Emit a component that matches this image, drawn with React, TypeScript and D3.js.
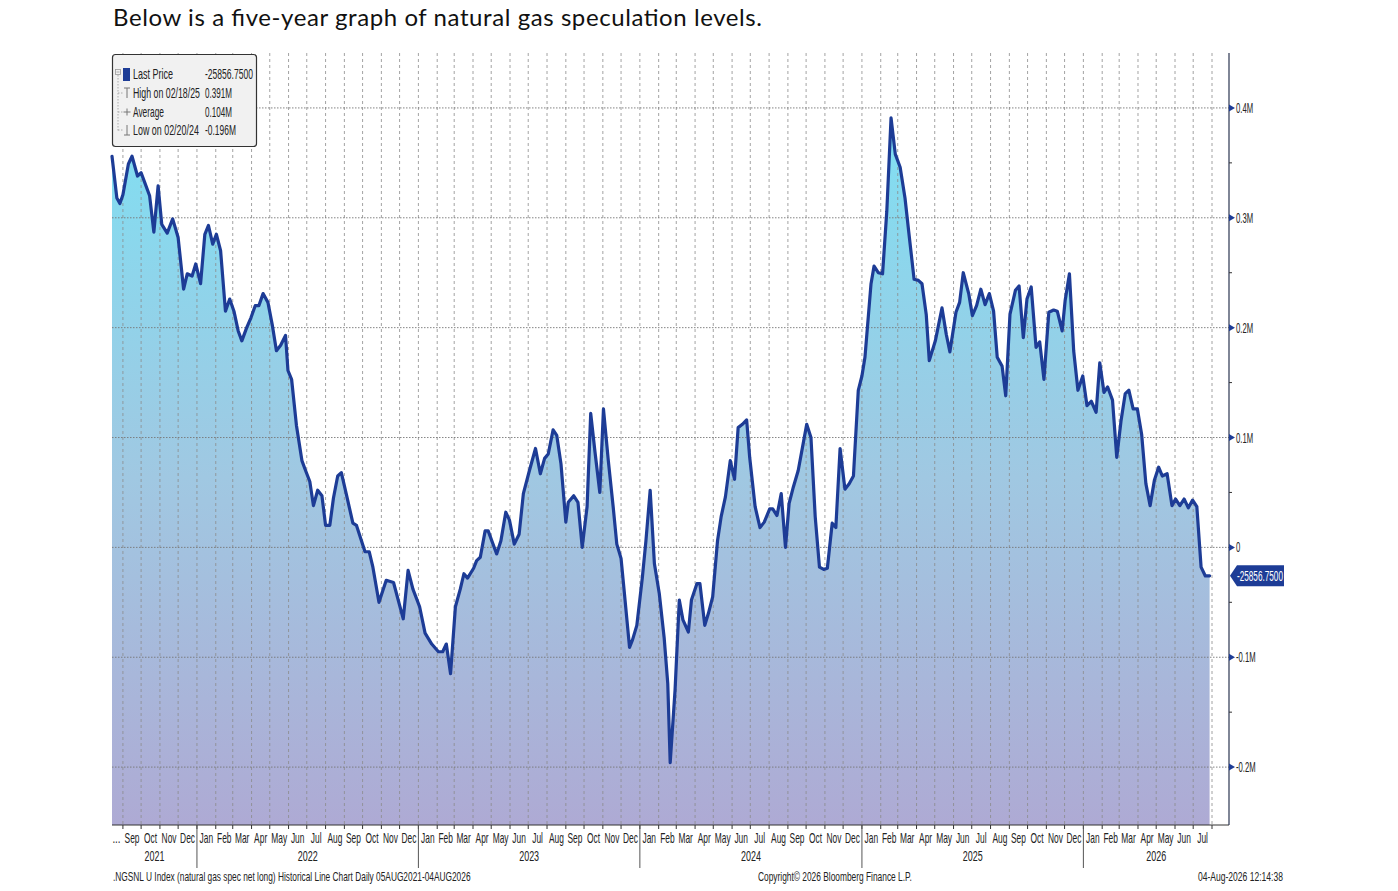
import React from "react";
import * as d3 from "d3";

// weekly net long positions, thousands of contracts: [date, value]
type Point = [string, number];

const points2021: Point[] = [
  ["2021-08-14", 356], ["2021-08-22", 318], ["2021-08-27", 313], ["2021-09-01", 321],
  ["2021-09-10", 349], ["2021-09-16", 356], ["2021-09-25", 338], ["2021-10-01", 341],
  ["2021-10-07", 332], ["2021-10-15", 320], ["2021-10-22", 287], ["2021-10-29", 329],
  ["2021-11-04", 294], ["2021-11-13", 286], ["2021-11-22", 299], ["2021-12-01", 282],
  ["2021-12-10", 235], ["2021-12-16", 249], ["2021-12-24", 247], ["2021-12-30", 258],
];

const points2022: Point[] = [
  ["2022-01-07", 240], ["2022-01-14", 285], ["2022-01-20", 293], ["2022-01-27", 276],
  ["2022-02-02", 285], ["2022-02-09", 270], ["2022-02-17", 215], ["2022-02-24", 226],
  ["2022-03-03", 215], ["2022-03-10", 197], ["2022-03-16", 188], ["2022-03-24", 200],
  ["2022-03-31", 209], ["2022-04-07", 220], ["2022-04-13", 220], ["2022-04-20", 231],
  ["2022-04-28", 223], ["2022-05-05", 203], ["2022-05-12", 179], ["2022-05-19", 184],
  ["2022-05-27", 193], ["2022-05-31", 161], ["2022-06-06", 153], ["2022-06-14", 111],
  ["2022-06-23", 79], ["2022-06-29", 70], ["2022-07-06", 60], ["2022-07-12", 38],
  ["2022-07-19", 52], ["2022-07-26", 47], ["2022-08-01", 20], ["2022-08-08", 20],
  ["2022-08-14", 45], ["2022-08-21", 65], ["2022-08-27", 68], ["2022-09-04", 49],
  ["2022-09-15", 22], ["2022-09-21", 20], ["2022-10-05", -4], ["2022-10-12", -4],
  ["2022-10-18", -18], ["2022-10-28", -50], ["2022-11-09", -30], ["2022-11-21", -32],
  ["2022-12-07", -65], ["2022-12-15", -21], ["2022-12-23", -38],
];

const points2023: Point[] = [
  ["2023-01-03", -54], ["2023-01-12", -78], ["2023-01-23", -88], ["2023-02-03", -95],
  ["2023-02-10", -95], ["2023-02-16", -88], ["2023-02-23", -115], ["2023-03-03", -54],
  ["2023-03-11", -38], ["2023-03-17", -24], ["2023-03-23", -28], ["2023-04-02", -19],
  ["2023-04-07", -12], ["2023-04-13", -9], ["2023-04-21", 15], ["2023-04-26", 15],
  ["2023-05-10", -6], ["2023-05-17", 6], ["2023-05-25", 32], ["2023-05-31", 25],
  ["2023-06-08", 3], ["2023-06-16", 12], ["2023-06-23", 49], ["2023-07-03", 70],
  ["2023-07-13", 90], ["2023-07-21", 67], ["2023-07-28", 81], ["2023-08-03", 85],
  ["2023-08-11", 107], ["2023-08-17", 102], ["2023-08-24", 76], ["2023-09-01", 23],
  ["2023-09-05", 41], ["2023-09-14", 47], ["2023-09-21", 41], ["2023-09-28", 0],
  ["2023-10-06", 37], ["2023-10-12", 122], ["2023-10-19", 87], ["2023-10-27", 50],
  ["2023-11-02", 126], ["2023-11-10", 79], ["2023-11-18", 37], ["2023-11-24", 3],
  ["2023-12-01", -10], ["2023-12-05", -33], ["2023-12-15", -91], ["2023-12-20", -84],
  ["2023-12-27", -71],
];

const points2024: Point[] = [
  ["2024-01-05", -28], ["2024-01-11", 6], ["2024-01-18", 52], ["2024-01-25", -15],
  ["2024-02-02", -42], ["2024-02-10", -82], ["2024-02-16", -124], ["2024-02-20", -196],
  ["2024-02-28", -130], ["2024-03-06", -48], ["2024-03-12", -66], ["2024-03-21", -77],
  ["2024-03-26", -48], ["2024-04-04", -33], ["2024-04-09", -33], ["2024-04-17", -71],
  ["2024-04-23", -60], ["2024-04-30", -45], ["2024-05-08", 6], ["2024-05-14", 28],
  ["2024-05-21", 46], ["2024-05-29", 79], ["2024-06-05", 62], ["2024-06-11", 109],
  ["2024-06-18", 112], ["2024-06-25", 116], ["2024-06-30", 82], ["2024-07-09", 37],
  ["2024-07-17", 18], ["2024-07-24", 23], ["2024-08-02", 35], ["2024-08-07", 35],
  ["2024-08-14", 29], ["2024-08-21", 49], ["2024-08-28", 0], ["2024-09-03", 40],
  ["2024-09-10", 55], ["2024-09-18", 70], ["2024-09-26", 94], ["2024-10-02", 112],
  ["2024-10-09", 100], ["2024-10-16", 28], ["2024-10-23", -18], ["2024-10-30", -20],
  ["2024-11-05", -19], ["2024-11-13", 22], ["2024-11-19", 18], ["2024-11-26", 90],
  ["2024-12-04", 53], ["2024-12-11", 58], ["2024-12-18", 65], ["2024-12-26", 143],
];

const points2025: Point[] = [
  ["2025-01-01", 156], ["2025-01-06", 173], ["2025-01-16", 240], ["2025-01-21", 256],
  ["2025-01-28", 250], ["2025-02-04", 249], ["2025-02-11", 306], ["2025-02-18", 391],
  ["2025-02-25", 358], ["2025-03-05", 346], ["2025-03-13", 318], ["2025-03-19", 288],
  ["2025-03-28", 244], ["2025-04-04", 243], ["2025-04-10", 240], ["2025-04-17", 212],
  ["2025-04-22", 170], ["2025-05-02", 188], ["2025-05-13", 218], ["2025-05-20", 194],
  ["2025-05-26", 178], ["2025-06-05", 214], ["2025-06-11", 223], ["2025-06-17", 250],
  ["2025-06-26", 231], ["2025-07-02", 211], ["2025-07-09", 220], ["2025-07-16", 235],
  ["2025-07-23", 221], ["2025-07-30", 231], ["2025-08-06", 215], ["2025-08-12", 173],
  ["2025-08-20", 165], ["2025-08-26", 138], ["2025-09-02", 212], ["2025-09-11", 234],
  ["2025-09-17", 238], ["2025-09-24", 191], ["2025-09-30", 226], ["2025-10-07", 237],
  ["2025-10-15", 182], ["2025-10-21", 187], ["2025-10-28", 153], ["2025-11-05", 214],
  ["2025-11-13", 216], ["2025-11-19", 215], ["2025-11-27", 197], ["2025-12-02", 225],
  ["2025-12-09", 249], ["2025-12-16", 179], ["2025-12-23", 143], ["2025-12-31", 156],
];

const points2026: Point[] = [
  ["2026-01-07", 129], ["2026-01-14", 133], ["2026-01-22", 123], ["2026-01-28", 168],
  ["2026-02-04", 141], ["2026-02-10", 146], ["2026-02-18", 134], ["2026-02-25", 82],
  ["2026-03-04", 115], ["2026-03-11", 140], ["2026-03-17", 143], ["2026-03-24", 126],
  ["2026-03-31", 126], ["2026-04-07", 103], ["2026-04-14", 58], ["2026-04-21", 38],
  ["2026-04-28", 61], ["2026-05-05", 73], ["2026-05-11", 65], ["2026-05-19", 67],
  ["2026-05-27", 38], ["2026-06-02", 44], ["2026-06-09", 38], ["2026-06-16", 44],
  ["2026-06-23", 36], ["2026-06-30", 43], ["2026-07-07", 37], ["2026-07-14", -18],
  ["2026-07-21", -26], ["2026-07-28", -25.85675],
];

const axisStart = "2021-08-14";
const axisEnd = "2026-08-29";
const yDomain: [number, number] = [-252.7, 450];

const yTicks = [-200, -100, 0, 100, 200, 300, 400];
const yTickLabels = ["-0.2M", "-0.1M", "0", "0.1M", "0.2M", "0.3M", "0.4M"];
const yMinorTicks = [-150, -50, 50, 150, 250, 350];

const lastPriceLabel = "-25856.7500";
const legendLabels = ["Last Price", "High on 02/18/25", "Average", "Low on 02/20/24"];
const legendValues = ["-25856.7500", "0.391M", "0.104M", "-0.196M"];

const titleText = "Below is a five-year graph of natural gas speculation levels.";
const footerLeft =
  ".NGSNL U Index (natural gas spec net long) Historical Line Chart Daily 05AUG2021-04AUG2026";
const footerMid = "Copyright\u00a9 2026 Bloomberg Finance L.P.";
const footerRight = "04-Aug-2026 12:14:38";

const W = 1398;
const H = 891;
const plotLeft = 112;
const plotRight = 1229;
const plotTop = 53;
const plotBottom = 825;

const narrow = "'Liberation Sans', Arial, sans-serif";
const navy = "#1d3c96";

interface Datum {
  date: Date;
  value: number;
}

const parse = d3.timeParse("%Y-%m-%d");

type G = d3.Selection<any, unknown, null, undefined>;

// Bloomberg style condensed text: regular sans squeezed horizontally
function narrowText(
  g: G,
  text: string,
  x: number,
  y: number,
  size: number,
  sx: number,
  anchor = "start",
  fill = "#222"
) {
  return g
    .append("text")
    .attr("transform", `translate(${x},${y}) scale(${sx},1)`)
    .attr("text-anchor", anchor)
    .style("font-family", narrow)
    .style("font-size", `${size}px`)
    .style("fill", fill)
    .text(text);
}

// squeezed text that spans a given width
function fitText(g: G, text: string, x: number, y: number, size: number, width: number, fill = "#222") {
  const t = narrowText(g, text, x, y, size, 1, "start", fill);
  const len = (t.node() as SVGTextElement).getComputedTextLength() || width;
  t.attr("transform", `translate(${x},${y}) scale(${width / len},1)`);
  return t;
}

const App: React.FC = () => {
  const svgRef = React.useRef<SVGSVGElement>(null);

  React.useEffect(() => {
    if (!svgRef.current) return;
    const svg = d3.select(svgRef.current);
    svg.selectAll("*").remove();

    const data: Datum[] = [
      ...points2021,
      ...points2022,
      ...points2023,
      ...points2024,
      ...points2025,
      ...points2026,
    ].map(([d, v]) => ({ date: parse(d) as Date, value: v }));

    const start = parse(axisStart) as Date;
    const end = parse(axisEnd) as Date;
    const x = d3.scaleTime().domain([start, end]).range([plotLeft, plotRight]);
    const y = d3.scaleLinear().domain(yDomain).range([plotBottom, plotTop]);

    // title
    svg
      .append("text")
      .attr("x", 113)
      .attr("y", 26)
      .attr("textLength", 649)
      .attr("lengthAdjust", "spacing")
      .style("font-family", "Lato, 'Open Sans', sans-serif")
      .style("font-size", "24px")
      .style("fill", "#111")
      .text(titleText);

    const defs = svg.append("defs");
    const grad = defs
      .append("linearGradient")
      .attr("id", "areaFill")
      .attr("gradientUnits", "userSpaceOnUse")
      .attr("x1", 0)
      .attr("x2", 0)
      .attr("y1", plotTop)
      .attr("y2", plotBottom);
    grad.append("stop").attr("offset", "0%").attr("stop-color", "#7ae3f5");
    grad.append("stop").attr("offset", "55%").attr("stop-color", "#a0c8e2");
    grad.append("stop").attr("offset", "100%").attr("stop-color", "#aeaad4");

    const area = d3
      .area<Datum>()
      .x(d => x(d.date))
      .y0(plotBottom)
      .y1(d => y(d.value));
    svg.append("path").datum(data).attr("d", area).attr("fill", "url(#areaFill)");

    // grid
    const months = d3.timeMonth.range(d3.timeMonth.ceil(start), end);
    const grid = svg.append("g").attr("class", "grid");
    months.forEach(m => {
      grid
        .append("line")
        .attr("x1", x(m))
        .attr("x2", x(m))
        .attr("y1", plotTop)
        .attr("y2", plotBottom)
        .style("stroke", "#8c8c8c")
        .style("stroke-width", 0.8)
        .style("stroke-dasharray", "3,3");
    });
    yTicks.forEach(t => {
      grid
        .append("line")
        .attr("x1", plotLeft)
        .attr("x2", plotRight)
        .attr("y1", y(t))
        .attr("y2", y(t))
        .style("stroke", "#777")
        .style("stroke-width", 0.9)
        .style("stroke-dasharray", "1.5,1.5");
    });

    // series line
    const line = d3
      .line<Datum>()
      .x(d => x(d.date))
      .y(d => y(d.value));
    svg
      .append("path")
      .datum(data)
      .attr("d", line)
      .attr("fill", "none")
      .attr("stroke", navy)
      .attr("stroke-width", 3.2)
      .attr("stroke-linejoin", "round")
      .attr("stroke-linecap", "round");

    // x axis
    const axis = svg.append("g").attr("class", "x-axis");
    axis
      .append("line")
      .attr("x1", plotLeft)
      .attr("x2", plotRight)
      .attr("y1", plotBottom)
      .attr("y2", plotBottom)
      .style("stroke", "#333")
      .style("stroke-width", 1);
    months.forEach(m => {
      axis
        .append("line")
        .attr("x1", x(m))
        .attr("x2", x(m))
        .attr("y1", plotBottom)
        .attr("y2", plotBottom + 4)
        .style("stroke", "#333");
    });
    const fmtMonth = d3.timeFormat("%b");
    months.forEach(m => {
      const next = d3.timeMonth.offset(m, 1);
      if (next > end) return;
      narrowText(axis, fmtMonth(m), (x(m) + x(next)) / 2, 842.5, 14, 0.6, "middle");
    });
    narrowText(axis, "...", (plotLeft + x(months[0])) / 2 - 1, 842.5, 14, 0.7, "middle");

    const years = d3.timeYear.range(d3.timeYear.ceil(start), end);
    years.forEach(yr => {
      axis
        .append("line")
        .attr("x1", x(yr))
        .attr("x2", x(yr))
        .attr("y1", plotBottom)
        .attr("y2", 868)
        .style("stroke", "#555");
    });
    const yearStarts = [d3.timeYear.floor(start), ...years];
    yearStarts.forEach(yr => {
      const a = Math.max(plotLeft, x(yr));
      const b = Math.min(plotRight, x(d3.timeYear.offset(yr, 1)));
      narrowText(axis, String(yr.getFullYear()), (a + b) / 2, 861, 14, 0.64, "middle");
    });

    // right axis
    const ry = svg.append("g").attr("class", "y-axis");
    ry.append("line")
      .attr("x1", plotRight)
      .attr("x2", plotRight)
      .attr("y1", plotTop)
      .attr("y2", plotBottom)
      .style("stroke", "#2a3550")
      .style("stroke-width", 1.2);
    yMinorTicks.forEach(t => {
      ry.append("line")
        .attr("x1", plotRight)
        .attr("x2", plotRight + 3)
        .attr("y1", y(t))
        .attr("y2", y(t))
        .style("stroke", "#333");
    });
    yTicks.forEach((t, i) => {
      const ty = y(t);
      ry.append("path")
        .attr("d", `M${plotRight},${ty - 3.5}L${plotRight + 6},${ty}L${plotRight},${ty + 3.5}Z`)
        .attr("fill", navy);
      narrowText(ry, yTickLabels[i], plotRight + 7, ty + 5, 14, 0.55);
    });

    // last price tag
    const last = data[data.length - 1];
    const ly = y(last.value);
    ry.append("path")
      .attr(
        "d",
        `M${plotRight + 1},${ly}L${plotRight + 8},${ly - 10.5}L${plotRight + 55},${ly - 10.5}L${plotRight + 55},${ly + 10.5}L${plotRight + 8},${ly + 10.5}Z`
      )
      .attr("fill", navy);
    fitText(ry, lastPriceLabel, plotRight + 8, ly + 5, 14, 46, "#fff");

    // legend
    const legend = svg.append("g").attr("class", "legend");
    legend
      .append("rect")
      .attr("x", 112.5)
      .attr("y", 54.5)
      .attr("width", 144)
      .attr("height", 92)
      .attr("rx", 3)
      .style("fill", "#f1f1f1")
      .style("stroke", "#333")
      .style("stroke-width", 1.2);
    // tree marker
    legend
      .append("rect")
      .attr("x", 115.5)
      .attr("y", 69.5)
      .attr("width", 5)
      .attr("height", 5)
      .style("fill", "none")
      .style("stroke", "#999")
      .style("stroke-width", 0.8);
    legend
      .append("line")
      .attr("x1", 116.5)
      .attr("x2", 119.5)
      .attr("y1", 72)
      .attr("y2", 72)
      .style("stroke", "#999")
      .style("stroke-width", 0.8);
    legend
      .append("line")
      .attr("x1", 118)
      .attr("x2", 118)
      .attr("y1", 75)
      .attr("y2", 131)
      .style("stroke", "#aaa")
      .style("stroke-dasharray", "1.5,1.5");
    const rowY = [74, 93, 112, 130];
    rowY.slice(1).forEach(ry2 => {
      legend
        .append("line")
        .attr("x1", 118)
        .attr("x2", 123)
        .attr("y1", ry2)
        .attr("y2", ry2)
        .style("stroke", "#aaa")
        .style("stroke-dasharray", "1.5,1.5");
    });
    legend
      .append("rect")
      .attr("x", 123)
      .attr("y", 68)
      .attr("width", 7)
      .attr("height", 13)
      .attr("fill", navy);
    // high marker
    legend
      .append("path")
      .attr("d", `M124,${rowY[1] - 5}H130M127,${rowY[1] - 5}V${rowY[1] + 5}`)
      .style("stroke", "#777")
      .style("fill", "none");
    // average marker
    legend
      .append("path")
      .attr("d", `M123.5,${rowY[2]}H130.5M127,${rowY[2] - 3.5}V${rowY[2] + 3.5}`)
      .style("stroke", "#777")
      .style("fill", "none");
    // low marker
    legend
      .append("path")
      .attr("d", `M127,${rowY[3] - 5}V${rowY[3] + 5}M124,${rowY[3] + 5}H130`)
      .style("stroke", "#777")
      .style("fill", "none");
    const labelWidths = [40, 67, 31, 66];
    const valueWidths = [48, 27, 27, 31];
    legendLabels.forEach((label, i) => {
      fitText(legend, label, 133, rowY[i] + 5, 14, labelWidths[i]);
      fitText(legend, legendValues[i], 205, rowY[i] + 5, 14, valueWidths[i]);
    });

    // footer
    fitText(svg, footerLeft, 113, 881, 13, 358);
    fitText(svg, footerMid, 758, 881, 13, 154);
    fitText(svg, footerRight, 1198, 881, 13, 85);
  }, []);

  return (
    <svg
      ref={svgRef}
      width={W}
      height={H}
      style={{ position: "absolute", left: 0, top: 0, background: "#fff" }}
    />
  );
};

export default App;
